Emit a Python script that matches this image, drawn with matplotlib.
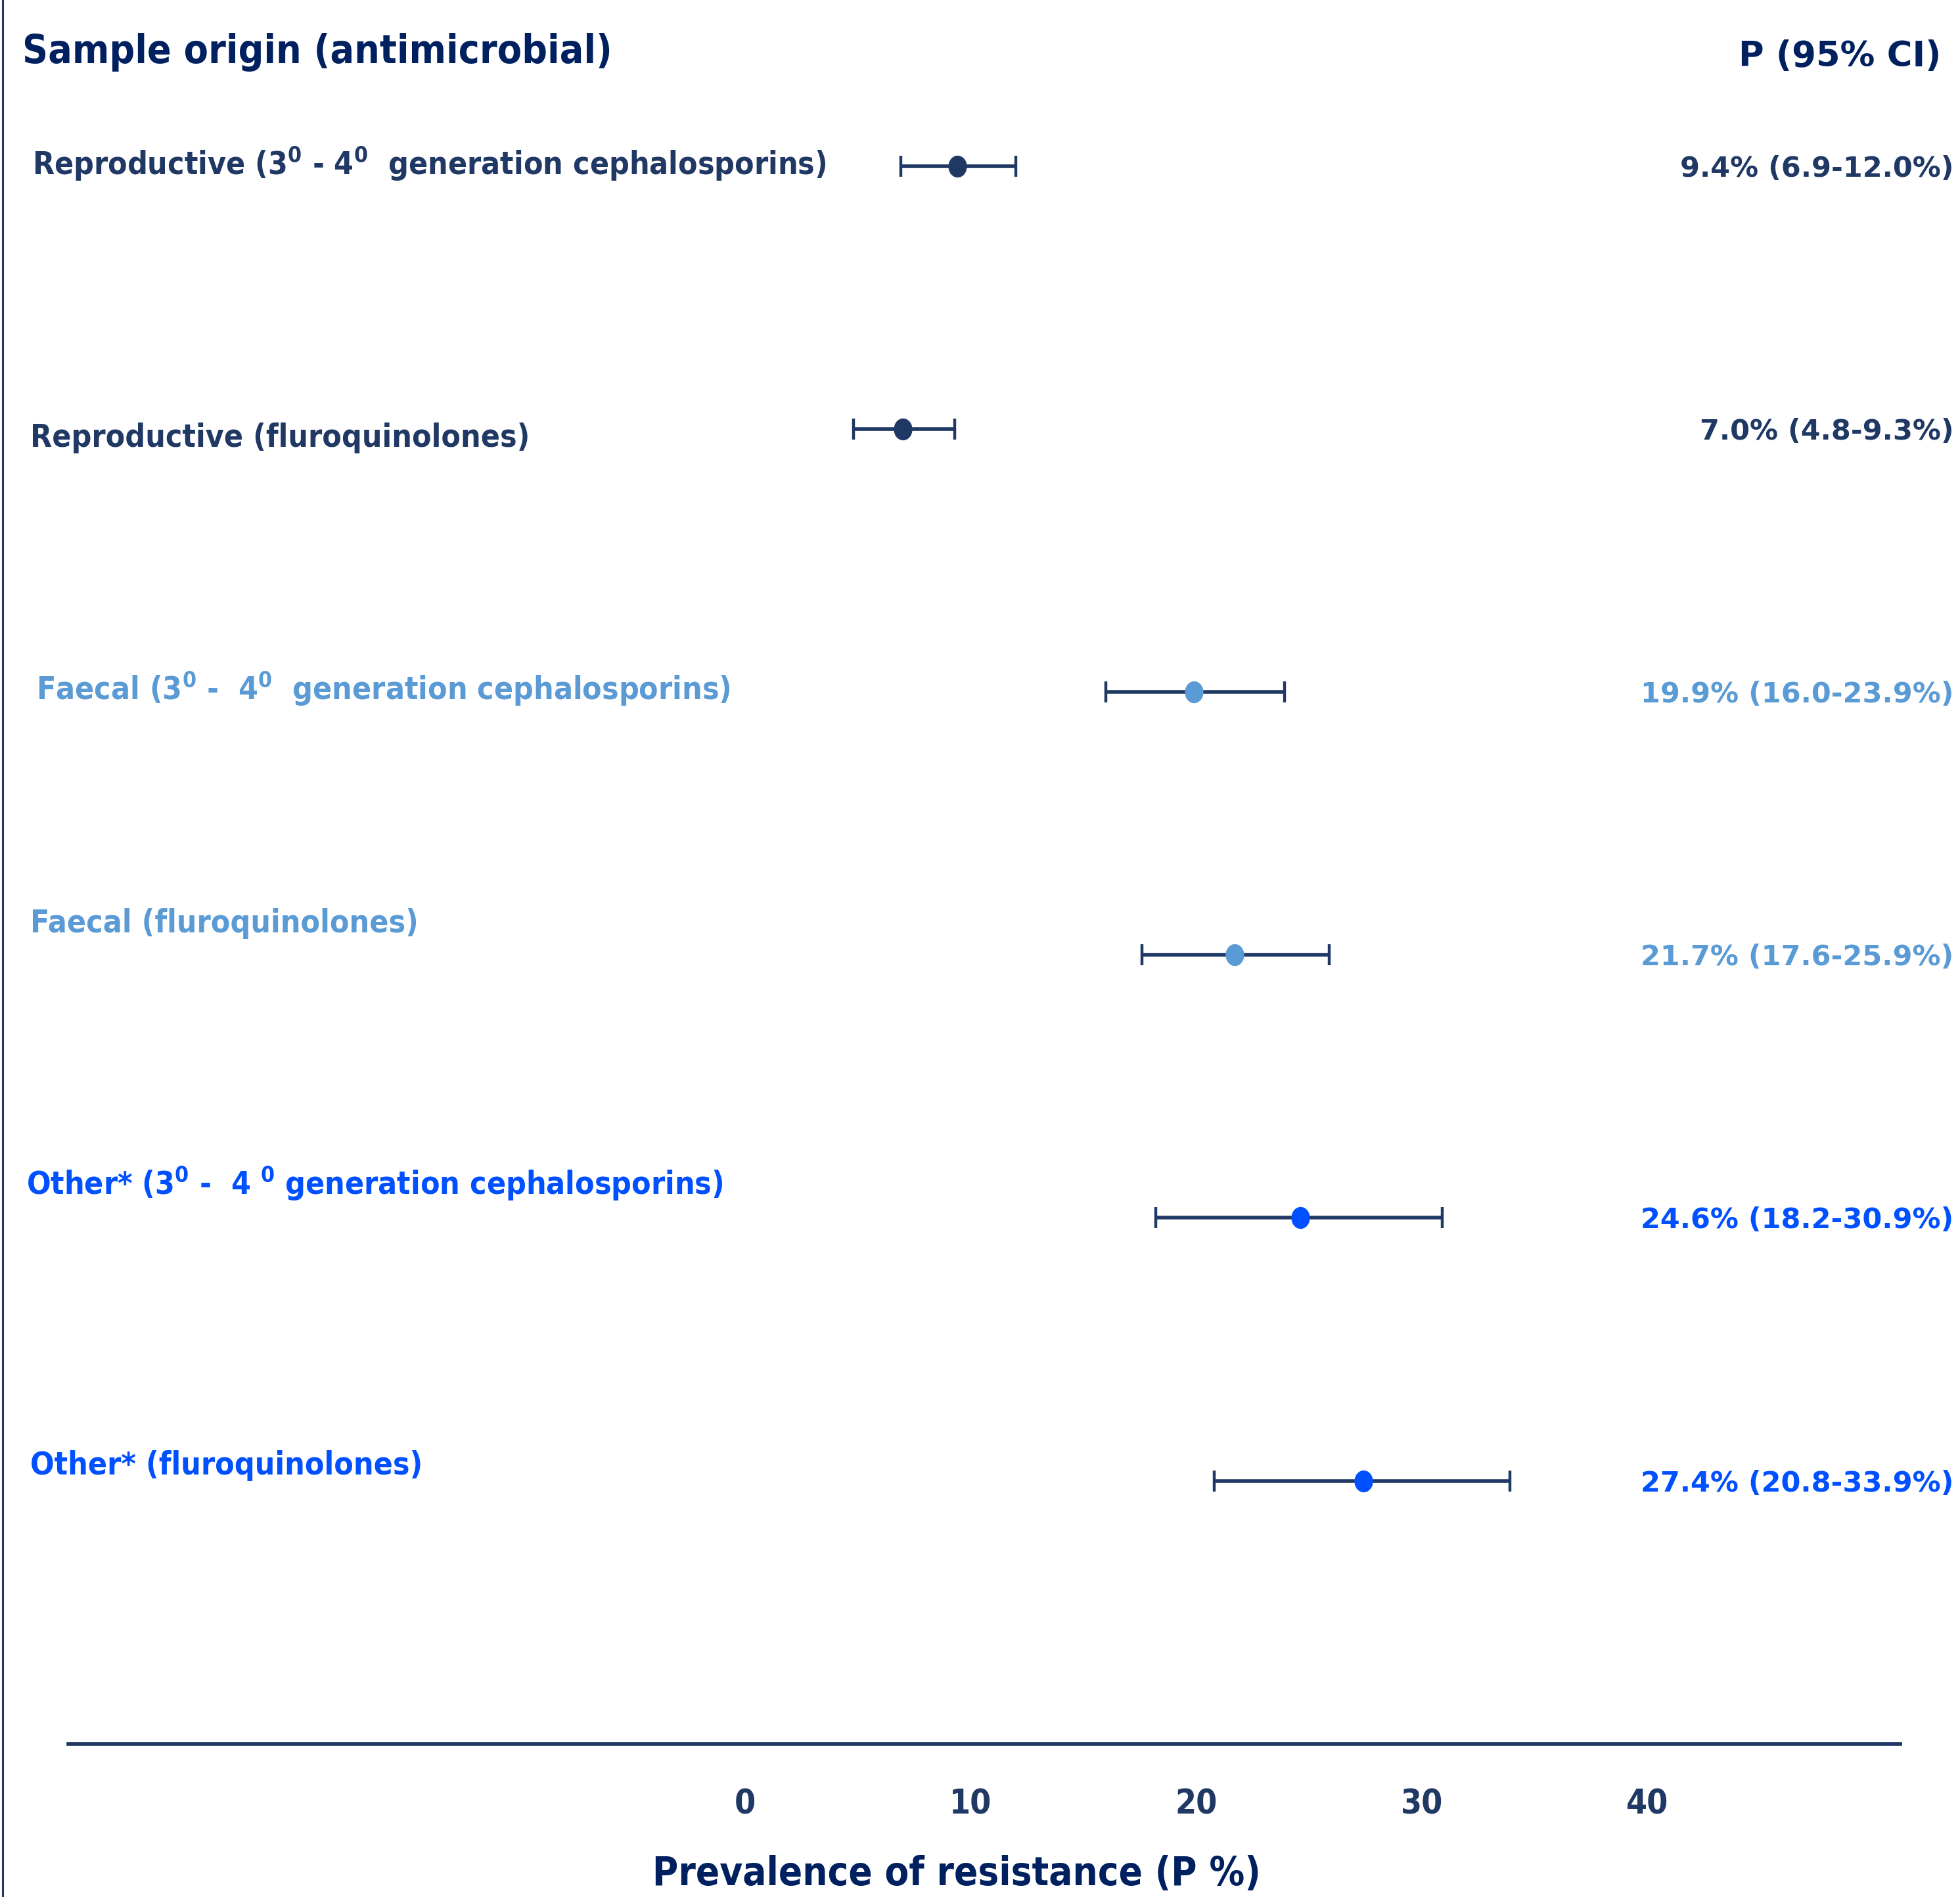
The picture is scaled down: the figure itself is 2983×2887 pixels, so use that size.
import matplotlib
matplotlib.use('Agg')
import matplotlib.pyplot as plt
from matplotlib.path import Path
from matplotlib.transforms import Affine2D

# data
labels = [
    r"Reproductive (3$^{\mathregular{0}}$ - 4$^{\mathregular{0}}$  generation cephalosporins)",
    "Reproductive (fluroquinolones)",
    r"Faecal (3$^{\mathregular{0}}$ -  4$^{\mathregular{0}}$  generation cephalosporins)",
    "Faecal (fluroquinolones)",
    r"Other* (3$^{\mathregular{0}}$ -  4 $^{\mathregular{0}}$ generation cephalosporins)",
    "Other* (fluroquinolones)",
]
est = [9.4, 7.0, 19.9, 21.7, 24.6, 27.4]
lo = [6.9, 4.8, 16.0, 17.6, 18.2, 20.8]
hi = [12.0, 9.3, 23.9, 25.9, 30.9, 33.9]
groups = ['Reproductive', 'Reproductive', 'Faecal', 'Faecal', 'Other', 'Other']
xticks = [0, 10, 20, 30, 40]

navy = '#203864'
title_col = '#002060'
group_col = {'Reproductive': navy, 'Faecal': '#5B9BD5', 'Other': '#0050FF'}

# small vertical nudges of the left labels (in row units), as in the original
label_dy = [-0.01, 0.033, -0.012, -0.12, -0.13, -0.057]
label_x = [0.0165, 0.0153, 0.0185, 0.0153, 0.0134, 0.0153]

plt.rcParams['font.family'] = ['DejaVu Sans']
narrow = dict(fontweight='bold', fontstretch='condensed')

fig = plt.figure(figsize=(29.83, 28.87), dpi=100)
ax = fig.add_axes([0, 0, 1, 1])
ax.set_xlim(-33.02, 53.85)
ax.set_ylim(6.583, -0.632)

# slightly tall ellipse marker
ell = Path.unit_circle().transformed(Affine2D().scale(0.84, 1.0))

rows = list(range(len(est)))
for i in rows:
    c = group_col[groups[i]]
    ax.errorbar(est[i], i, xerr=[[est[i] - lo[i]], [hi[i] - est[i]]], fmt='none',
                ecolor=navy, elinewidth=4.0, capsize=11.5, capthick=3.2, zorder=2)
    ax.plot(est[i], i, marker=ell, markersize=23, color=c, linestyle='none', zorder=3)
    ax.text(label_x[i], i + label_dy[i], labels[i], transform=ax.get_yaxis_transform(),
            ha='left', va='center', fontsize=34.5, color=c, **narrow)
    val = f"{est[i]:.1f}% ({lo[i]:.1f}-{hi[i]:.1f}%)"
    ax.text(0.9968, i + 0.01, val, transform=ax.get_yaxis_transform(),
            ha='right', va='center', fontsize=31, fontweight='bold', color=c)

ax.text(0.0115, -0.4325, "Sample origin (antimicrobial)", transform=ax.get_yaxis_transform(),
        ha='left', va='center', fontsize=43.5, color=title_col, **narrow)
ax.text(0.9905, -0.418, "P (95% CI)", transform=ax.get_yaxis_transform(),
        ha='right', va='center', fontsize=38, fontweight='bold', color=title_col)

# axes: baseline under the rows and a thin rule on the left edge
ax.spines['top'].set_visible(False)
ax.spines['right'].set_visible(False)
ax.spines['bottom'].set_position(('data', 6.0))
ax.spines['bottom'].set_bounds(-30, 51.2)
ax.spines['bottom'].set_linewidth(4.1)
ax.spines['bottom'].set_color(navy)
ax.spines['left'].set_position(('axes', 0.0013))
ax.spines['left'].set_linewidth(2.2)
ax.spines['left'].set_color(navy)
ax.set_yticks([])
ax.set_xticks(xticks)
ax.set_xticklabels([str(t) for t in xticks])
ax.tick_params(axis='x', length=0, pad=49, labelsize=37, labelcolor=navy)
for t in ax.get_xticklabels():
    t.set_fontweight('bold')
    t.set_fontstretch('condensed')

ax.text(0.488, 6.497, "Prevalence of resistance (P %)", transform=ax.get_yaxis_transform(),
        ha='center', va='center', fontsize=43, color=title_col, **narrow)

fig.savefig('out.png', dpi=100, facecolor='white')
